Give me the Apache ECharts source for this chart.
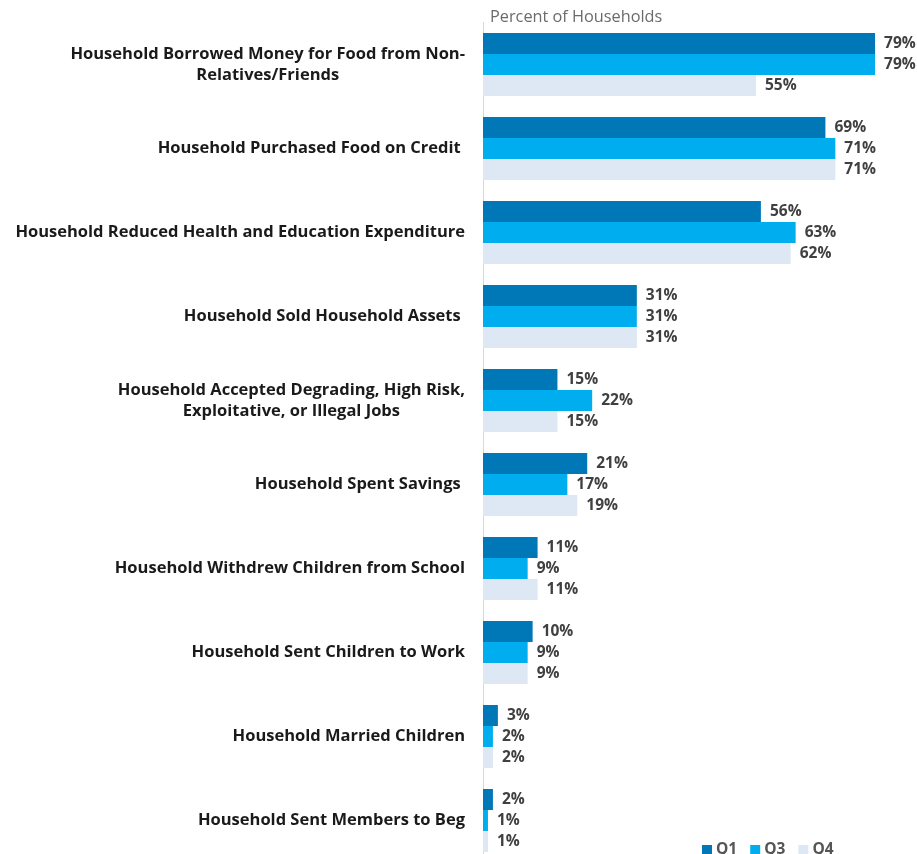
<!DOCTYPE html>
<html>
<head>
<meta charset="utf-8">
<script src="https://cdn.jsdelivr.net/npm/echarts@6/dist/echarts.min.js"></script>
<style>
  html, body { margin: 0; padding: 0; background: #ffffff; overflow: hidden; }
  #chart { width: 917px; height: 880px; }
</style>
</head>
<body>
<div id="chart"></div>
<script>
// Coping strategies reported by households, by quarter (percent of households)
const categories = [
  'Household Borrowed Money for Food from Non-\nRelatives/Friends',
  'Household Purchased Food on Credit ',
  'Household Reduced Health and Education Expenditure',
  'Household Sold Household Assets ',
  'Household Accepted Degrading, High Risk,\nExploitative, or Illegal Jobs',
  'Household Spent Savings ',
  'Household Withdrew Children from School',
  'Household Sent Children to Work',
  'Household Married Children',
  'Household Sent Members to Beg'
];
const seriesNames = ['Q1', 'Q3', 'Q4'];
const q1Values = [79, 69, 56, 31, 15, 21, 11, 10, 3, 2];
const q3Values = [79, 71, 63, 31, 22, 17, 9, 9, 2, 1];
const q4Values = [55, 71, 62, 31, 15, 19, 11, 9, 2, 1];
const axisTitle = 'Percent of Households';

const colors = ['#0077b6', '#00aeef', '#dde8f4'];
const font = '"Open Sans", "Noto Sans", sans-serif';

// The canvas is a little taller than the window so the last category band
// keeps the same height as the others; the window crops the overflow.
const chart = echarts.init(document.getElementById('chart'), null, { renderer: 'canvas' });

const valueLists = [q1Values, q3Values, q4Values];
const series = seriesNames.map((name, i) => ({
  name: name,
  type: 'bar',
  data: valueLists[i],
  barGap: '0%',
  barCategoryGap: '25%',
  itemStyle: { color: colors[i] },
  label: {
    show: true,
    position: 'right',
    distance: 9,
    formatter: '{c}%',
    color: '#404040',
    fontFamily: font,
    fontWeight: 'bold',
    fontSize: 15.5
  }
}));

chart.setOption({
  animation: false,
  backgroundColor: '#ffffff',
  title: {
    text: axisTitle,
    left: 485,
    top: 4,
    textStyle: { color: '#6b6b6b', fontFamily: font, fontWeight: 'normal', fontSize: 16.3 }
  },
  legend: {
    data: seriesNames,
    left: 697,
    top: 837,
    itemWidth: 10,
    itemHeight: 10,
    itemGap: 13,
    icon: 'rect',
    textStyle: { color: '#555555', fontFamily: font, fontWeight: 'bold', fontSize: 15.5, padding: [0, 0, 0, -1] }
  },
  grid: {
    left: 483,
    top: 22.5,
    width: 397,
    height: 840,
    containLabel: false
  },
  xAxis: {
    type: 'value',
    min: 0,
    max: 80,
    show: false,
    splitLine: { show: false }
  },
  yAxis: {
    type: 'category',
    data: categories,
    inverse: true,
    axisLine: { show: true, lineStyle: { color: '#d9d9d9', width: 1 } },
    axisTick: { show: false },
    axisLabel: {
      margin: 18,
      formatter: function (v) {
        return v.split('\n').map(s => '{c|' + s + '}').join('\n');
      },
      rich: {
        c: {
          align: 'center',
          color: '#1a1a1a',
          fontFamily: font,
          fontWeight: 'bold',
          fontSize: 16.5,
          lineHeight: 21
        }
      }
    }
  },
  series: series
});
</script>
</body>
</html>
